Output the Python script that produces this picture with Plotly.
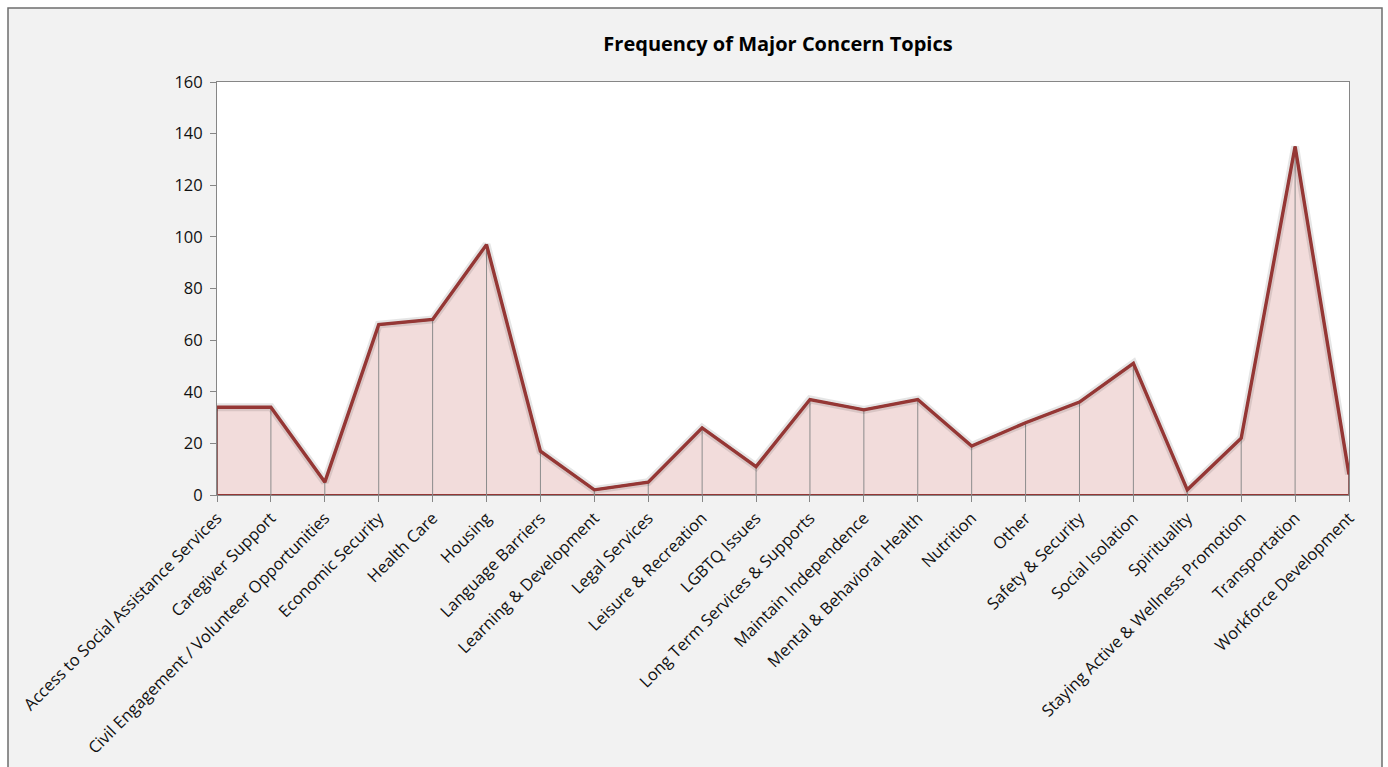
import plotly.graph_objects as go

categories = [
    "Access to Social Assistance Services", "Caregiver Support",
    "Civil Engagement / Volunteer Opportunities", "Economic Security",
    "Health Care", "Housing", "Language Barriers", "Learning & Development",
    "Legal Services", "Leisure & Recreation", "LGBTQ Issues",
    "Long Term Services & Supports", "Maintain Independence",
    "Mental & Behavioral Health", "Nutrition", "Other", "Safety & Security",
    "Social Isolation", "Spirituality", "Staying Active & Wellness Promotion",
    "Transportation", "Workforce Development",
]
values = [34, 34, 5, 66, 68, 97, 17, 2, 5, 26, 11, 37, 33, 37, 19, 28, 36, 51, 2, 22, 135, 8]
y_ticks = [0, 20, 40, 60, 80, 100, 120, 140, 160]

title = "Frequency of Major Concern Topics"
LINE = "#953735"
FILL = "#f2dcdb"
FONT = "Open Sans"

fig = go.Figure()

# filled polygon (area with outline along the base)
poly_x = categories + [categories[-1], categories[0], categories[0]]
poly_y = values + [0, 0, values[0]]
fig.add_trace(go.Scatter(x=poly_x, y=poly_y, mode="lines", fill="toself",
                         fillcolor=FILL, line=dict(color=LINE, width=2),
                         hoverinfo="skip", showlegend=False))

# vertical drop lines
dx, dy = [], []
for c, v in zip(categories, values):
    dx += [c, c, None]
    dy += [0, v, None]
fig.add_trace(go.Scatter(x=dx, y=dy, mode="lines",
                         line=dict(color="#8c8c8c", width=1),
                         hoverinfo="skip", showlegend=False))

# soft shadow under the line
fig.add_trace(go.Scatter(x=categories, y=values, mode="lines",
                         line=dict(color="rgba(0,0,0,0.10)", width=8),
                         hoverinfo="skip", showlegend=False))

# main line
fig.add_trace(go.Scatter(x=categories, y=values, mode="lines",
                         line=dict(color=LINE, width=3.4),
                         showlegend=False, name="Frequency"))

L, R, T, B = 217, 39, 82, 272
W, H = 1388, 767
pw, ph = W - L - R, H - T - B

def px(xp):
    return (xp - L) / pw

def py(yp):
    return (H - B - yp) / ph

fig.update_layout(
    width=W, height=H,
    margin=dict(l=L, r=R, t=T, b=B, pad=0, autoexpand=False),
    paper_bgcolor="white",
    plot_bgcolor="white",
    font=dict(family=FONT, size=16, color="#222222"),
    title=dict(text="<b>" + title + "</b>", x=778 / W, xref="container", xanchor="center",
               y=1 - 44 / H, yref="container", yanchor="middle",
               font=dict(family=FONT, size=20, color="#000000")),
    shapes=[
        dict(type="rect", xref="paper", yref="paper", layer="below",
             x0=px(8), x1=px(1382), y0=py(8), y1=py(800),
             fillcolor="#f2f2f2", line=dict(color="#6e6e6e", width=1.5)),
        dict(type="rect", xref="paper", yref="paper", layer="below",
             x0=0, x1=1, y0=0, y1=1, fillcolor="white", line=dict(width=0)),
    ],
)

fig.update_xaxes(type="category", categoryorder="array", categoryarray=categories,
                 range=[0, len(categories) - 1], tickangle=-45, automargin=False,
                 showgrid=False, zeroline=False,
                 showline=True, linecolor="#868686", linewidth=1, mirror=True,
                 ticks="outside", ticklen=6, tickcolor="#868686",
                 tickfont=dict(family=FONT, size=16.5, color="#111111"))
fig.update_yaxes(range=[0, 160], tickvals=y_ticks, showgrid=False, zeroline=False,
                 automargin=False,
                 showline=True, linecolor="#868686", linewidth=1, mirror=True,
                 ticks="outside", ticklen=6, tickcolor="#868686",
                 ticklabelstandoff=4,
                 tickfont=dict(family=FONT, size=16.5, color="#111111"))

fig.write_html("out.html")
